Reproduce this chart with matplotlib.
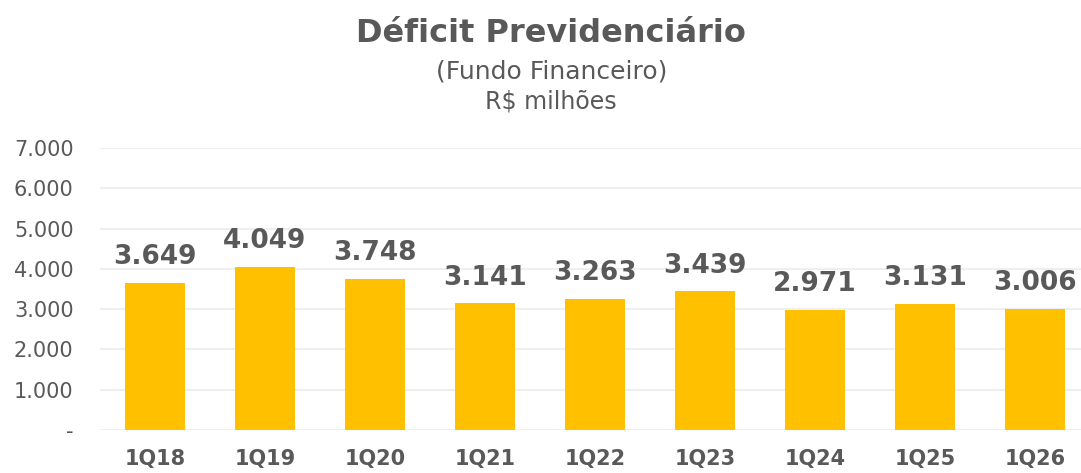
import matplotlib
matplotlib.use("Agg")
from matplotlib import pyplot as plt
from matplotlib.ticker import FuncFormatter

plt.rcParams['font.family'] = ['DejaVu Sans']

trimestres = ['1Q18', '1Q19', '1Q20', '1Q21', '1Q22', '1Q23', '1Q24', '1Q25', '1Q26']
deficit = [3649, 4049, 3748, 3141, 3263, 3439, 2971, 3131, 3006]
rotulos = ['3.649', '4.049', '3.748', '3.141', '3.263', '3.439', '2.971', '3.131', '3.006']

cinza = '#595959'
amarelo = '#FFC000'

fig = plt.figure(figsize=(10.81, 4.73), dpi=100)
ax = fig.add_axes([100/1081, 1-430/473, 1-100/1081, (430-148)/473])

xs = list(range(len(trimestres)))
ax.bar(xs, deficit, width=0.55, color=amarelo, zorder=3)
for x, v, r in zip(xs, deficit, rotulos):
    ax.text(x, v + 320, r, ha='center', va='bottom', fontsize=19,
            fontweight='bold', color=cinza, zorder=4)

ax.set_ylim(0, 7000)
ax.set_xlim(-0.5, 8.42)
ax.set_yticks(range(0, 7001, 1000))
ax.yaxis.set_major_formatter(FuncFormatter(
    lambda v, p: '-' if v == 0 else f'{int(v):,}'.replace(',', '.')))
ax.set_xticks(xs, trimestres)
ax.grid(axis='y', color='#EFEFEF', linewidth=1.5, zorder=0)
for s in ax.spines.values():
    s.set_visible(False)
ax.tick_params(axis='y', length=0, pad=19, labelsize=15, labelcolor=cinza)
ax.tick_params(axis='x', length=0, pad=14, labelsize=15, labelcolor=cinza)
for t in ax.get_xticklabels():
    t.set_fontweight('bold')

fig.text(0.51, 1-33/473, 'Déficit Previdenciário', ha='center', va='center',
         fontsize=23, fontweight='bold', color=cinza)
fig.text(0.51, 1-71/473, '(Fundo Financeiro)', ha='center', va='center',
         fontsize=18, color=cinza)
fig.text(0.51, 1-101/473, 'R$ milhões', ha='center', va='center',
         fontsize=17, color=cinza)

fig.savefig('out.png', dpi=100)
